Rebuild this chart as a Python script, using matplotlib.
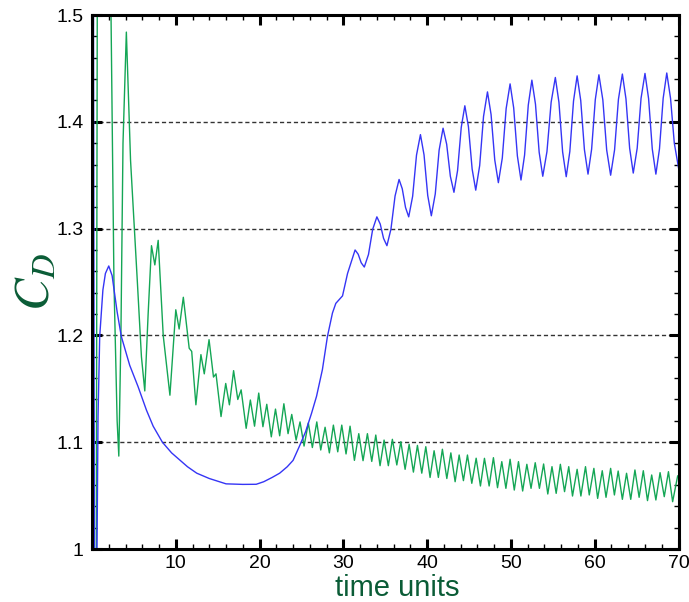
import numpy as np
import matplotlib
matplotlib.use('Agg')
import matplotlib.pyplot as plt
from matplotlib.ticker import MultipleLocator, FuncFormatter

# blue curve (t, C_D): start transient, dip, then growing oscillation
blue_t = [0.15, 0.3, 0.55, 0.72, 0.92, 1.3, 1.6, 2.0, 2.4, 3.0, 3.5, 4.5, 5.5, 6.5, 7.3, 8.4,
          9.5, 11.4, 12.5, 14.0, 16.0, 18.0, 19.6, 20.5, 21.5, 22.4, 23.3, 24.0, 24.8, 25.5,
          26.2, 26.8, 27.5, 28.1, 28.7, 29.1, 29.9, 30.5,
          31.4, 31.77, 32.13, 32.5, 33.0, 33.5, 34.0, 34.4, 34.8, 35.2, 35.68, 36.17,
          36.65, 37.03, 37.42, 37.8, 38.27, 38.73, 39.2, 39.63, 40.07, 40.5, 40.97, 41.43,
          41.9, 42.33, 42.77, 43.2, 43.63, 44.07, 44.5, 44.93, 45.37, 45.8, 46.27, 46.73,
          47.2, 47.63, 48.07, 48.5, 48.97, 49.43, 49.9, 50.33, 50.77, 51.2, 51.63, 52.07,
          52.5, 52.93, 53.37, 53.8, 54.3, 54.8, 55.3, 55.73, 56.17, 56.6, 57.03, 57.47,
          57.9, 58.33, 58.77, 59.2, 59.63, 60.07, 60.5, 60.97, 61.43, 61.9, 62.37, 62.83,
          63.3, 63.73, 64.17, 64.6, 65.07, 65.53, 66.0, 66.43, 66.87, 67.3, 67.73, 68.17,
          68.6, 69.05, 69.5, 70.0]
blue_cd = [1.62, 0.95, 0.95, 1.124, 1.199, 1.2425, 1.258, 1.265, 1.256, 1.222, 1.199, 1.172,
           1.152, 1.130, 1.115, 1.100, 1.090, 1.077, 1.071, 1.066, 1.061, 1.0605, 1.0606,
           1.063, 1.067, 1.071, 1.077, 1.083, 1.097, 1.110, 1.127, 1.143, 1.168, 1.199, 1.221,
           1.230, 1.237, 1.258,
           1.280, 1.276, 1.268, 1.264, 1.2758, 1.2993, 1.311, 1.3043, 1.2908, 1.284, 1.2995,
           1.3305, 1.346, 1.3373, 1.3198, 1.311, 1.3303, 1.3688, 1.388, 1.369, 1.331, 1.312,
           1.3325, 1.3735, 1.394, 1.379, 1.349, 1.334, 1.3543, 1.3948, 1.415, 1.3953, 1.3558,
           1.336, 1.359, 1.405, 1.428, 1.4068, 1.3643, 1.343, 1.3661, 1.4124, 1.4355, 1.413,
           1.368, 1.3455, 1.3689, 1.4156, 1.439, 1.4165, 1.3715, 1.349, 1.3721, 1.4184, 1.4415,
           1.4183, 1.3718, 1.3486, 1.3722, 1.4194, 1.443, 1.420, 1.374, 1.351, 1.3743, 1.4208,
           1.444, 1.4205, 1.3735, 1.350, 1.3737, 1.421, 1.4447, 1.4215, 1.3752, 1.352, 1.3753,
           1.422, 1.4453, 1.4217, 1.3746, 1.351, 1.3747, 1.422, 1.4457, 1.422, 1.380, 1.357]

# green curve (t, C_D): big early swings, decaying beat, then steady shedding
green_t = [0.5, 0.65, 1.4, 2.2, 2.62, 3.0, 3.2, 3.45, 3.7, 4.1, 4.6, 5.4, 5.9, 6.3, 6.7, 7.1,
           7.5, 7.9, 8.5, 9.3, 10.0, 10.4, 10.9, 11.6, 11.9, 12.4, 13.0, 13.4, 13.97, 14.5,
           14.8, 15.4, 15.96, 16.4, 16.9, 17.4, 17.8, 18.4, 18.9, 19.4, 19.9, 20.4, 20.86,
           21.4, 21.9, 22.4, 22.9, 23.4,
           23.84, 24.36, 24.83, 25.31, 25.82, 26.3, 26.83, 27.3, 27.82, 28.33, 28.81, 29.33,
           29.81, 30.32, 30.8, 31.32, 31.84, 32.35, 32.87, 33.39, 33.87, 34.38, 34.86, 35.37,
           35.85, 36.38, 36.86, 37.37, 37.85, 38.36, 38.84, 39.36, 39.84, 40.35, 40.83, 41.34,
           41.82, 42.35, 42.83, 43.34, 43.82, 44.33, 44.81, 45.33, 45.85, 46.36, 46.84,
           47.4, 47.91, 48.4, 48.91, 49.4, 49.9, 50.4, 50.9, 51.4, 51.9, 52.4, 52.9, 53.4,
           53.9, 54.4, 54.9, 55.4, 55.9, 56.4, 56.9, 57.35, 57.9, 58.35, 58.9, 59.35, 59.9,
           60.35, 60.9, 61.35, 61.9, 62.35, 62.8, 63.3, 63.8, 64.3, 64.8, 65.3, 65.8, 66.3,
           66.8, 67.3, 67.8, 68.3, 68.8, 69.3, 69.9]
green_cd = [0.95, 1.6, 2.2, 1.55, 1.25, 1.12, 1.087, 1.2, 1.38, 1.484, 1.364, 1.252, 1.18,
            1.148, 1.22, 1.284, 1.266, 1.289, 1.2, 1.144, 1.224, 1.206, 1.2357, 1.188, 1.185,
            1.135, 1.182, 1.164, 1.196, 1.161, 1.164, 1.124, 1.155, 1.135, 1.167, 1.14, 1.149,
            1.113, 1.1395, 1.115, 1.146, 1.1145, 1.1355, 1.105, 1.131, 1.106, 1.136, 1.108,
            1.126, 1.102, 1.119, 1.0964, 1.118, 1.095, 1.119, 1.0927, 1.114, 1.090, 1.116,
            1.091, 1.116, 1.089, 1.115, 1.083, 1.108, 1.0827, 1.108, 1.082, 1.1067, 1.078,
            1.102, 1.078, 1.1027, 1.0787, 1.1005, 1.0746, 1.098, 1.072, 1.097, 1.071, 1.0958,
            1.067, 1.092, 1.067, 1.0934, 1.066, 1.090, 1.063, 1.088, 1.064, 1.088, 1.0615,
            1.085, 1.059, 1.0849,
            1.059, 1.0855, 1.0574, 1.0818, 1.0568, 1.084, 1.0552, 1.0818, 1.0543, 1.0793,
            1.0568, 1.0808, 1.0568, 1.0796, 1.0515, 1.0771, 1.0521, 1.0793, 1.0537, 1.0771,
            1.0496, 1.0746, 1.0496, 1.0771, 1.0506, 1.0755, 1.0474, 1.0733, 1.0484, 1.0755,
            1.0506, 1.073, 1.0465, 1.0709, 1.0465, 1.074, 1.0484, 1.0733, 1.0453, 1.0693,
            1.0459, 1.0715, 1.049, 1.0724, 1.0443, 1.0684]

label_green = '#0a5c36'

plt.rcParams['font.family'] = ['Liberation Sans', 'DejaVu Sans']
plt.rcParams['mathtext.fontset'] = 'stix'

fig = plt.figure(figsize=(6.89, 6.02), dpi=100)
ax = fig.add_axes([92 / 689, 53 / 602, 586.5 / 689, 534 / 602])

ax.plot(green_t, green_cd, color='#14a655', linewidth=1.0, solid_joinstyle='round')
ax.plot(blue_t, blue_cd, color='#3535f5', linewidth=1.0, solid_joinstyle='round')

ax.set_xlim(0, 70)
ax.set_ylim(1.0, 1.5)

ax.xaxis.set_major_locator(MultipleLocator(10))
ax.xaxis.set_minor_locator(MultipleLocator(2))
ax.yaxis.set_major_locator(MultipleLocator(0.1))
ax.yaxis.set_minor_locator(MultipleLocator(0.02))
ax.xaxis.set_major_formatter(FuncFormatter(lambda v, p: '' if abs(v) < 1e-9 else '%g' % v))
ax.yaxis.set_major_formatter(FuncFormatter(lambda v, p: '%g' % round(v, 2)))

ax.tick_params(which='both', direction='in', top=True, right=True, labelsize=14)
ax.tick_params(which='major', length=7, width=2.2, pad=6)
ax.tick_params(axis='x', which='major', pad=4.5)
ax.tick_params(which='minor', length=3.8, width=1.0)
for s in ax.spines.values():
    s.set_linewidth(2.2)

ax.yaxis.grid(True, which='major', linestyle=(0, (3, 2)), color='#333333', linewidth=1.0)
ax.set_axisbelow(True)

# axis titles placed by hand to sit where the reference has them
ax.set_xlabel('time units', fontsize=21, color=label_green, va='bottom')
ax.xaxis.set_label_coords(0.52, -0.0995)
fig.text(37 / 689, 1 - 282 / 602, '$C_D$', fontsize=35, color=label_green,
         rotation=90, ha='center', va='center')

plt.savefig('out.png', dpi=100)
plt.close()
